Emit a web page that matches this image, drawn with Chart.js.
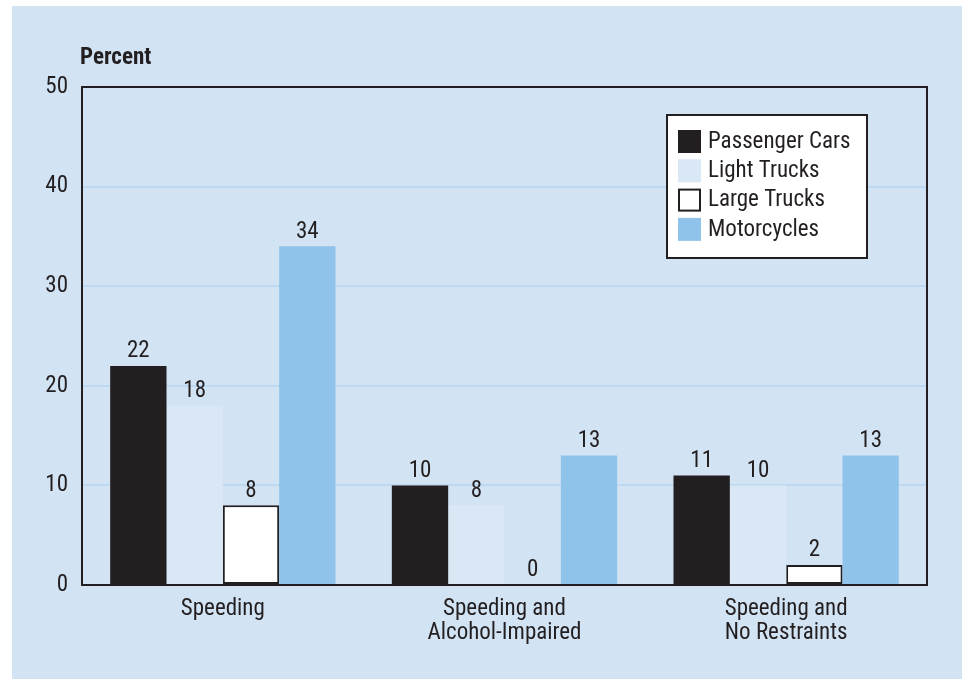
<!DOCTYPE html>
<html>
<head>
<meta charset="utf-8">
<script src="https://cdn.jsdelivr.net/npm/chart.js@4.4.0/dist/chart.umd.min.js"></script>
<style>
  html, body { margin: 0; padding: 0; background: #ffffff; }
  #panel { position: absolute; left: 12px; top: 6px; width: 950px; height: 673px; background: #d2e3f4; }
  #chart { display: block; }
</style>
</head>
<body>
<div id="panel"><canvas id="chart" width="950" height="673"></canvas></div>
<script>
// Categories and series values
const categories = [['Speeding'], ['Speeding and', 'Alcohol-Impaired'], ['Speeding and', 'No Restraints']];
const passengerCars = [22, 10, 11];
const lightTrucks = [18, 8, 10];
const largeTrucks = [8, 0, 2];
const motorcycles = [34, 13, 13];
const yTicks = [0, 10, 20, 30, 40, 50];

const FONT = "'Liberation Sans Narrow', 'Arial Narrow', 'Roboto Condensed', 'Liberation Sans', sans-serif";
const INK = '#231f20';
const SIZE = 23;

// Value labels above each bar
const valueLabels = {
    id: 'valueLabels',
    afterDatasetsDraw(chart) {
        const ctx = chart.ctx;
        ctx.save();
        ctx.font = SIZE + 'px ' + FONT;
        ctx.fillStyle = INK;
        ctx.textAlign = 'center';
        ctx.textBaseline = 'bottom';
        chart.data.datasets.forEach((ds, i) => {
            chart.getDatasetMeta(i).data.forEach((bar, j) => {
                ctx.fillText(String(ds.data[j]), bar.x, bar.y - 3);
            });
        });
        ctx.restore();
    }
};

// Black frame round the plot area, "Percent" heading and boxed legend
const frameAndLegend = {
    id: 'frameAndLegend',
    afterDatasetsDraw(chart) {
        const ctx = chart.ctx;
        const a = chart.chartArea;
        ctx.save();
        ctx.strokeStyle = INK;
        ctx.lineWidth = 2;
        ctx.strokeRect(a.left, a.top, a.right - a.left, a.bottom - a.top);

        ctx.font = 'bold ' + SIZE + 'px ' + FONT;
        ctx.fillStyle = INK;
        ctx.textAlign = 'left';
        ctx.textBaseline = 'middle';
        ctx.fillText('Percent', a.left - 2, a.top - 29);

        // legend box
        const bx = a.right - 260, by = a.top + 28, bw = 200, bh = 143;
        ctx.fillStyle = '#ffffff';
        ctx.fillRect(bx, by, bw, bh);
        ctx.strokeRect(bx, by, bw, bh);
        ctx.font = SIZE + 'px ' + FONT;
        chart.data.datasets.forEach((ds, i) => {
            const sy = by + 15 + i * 29.3;
            const sx = bx + 11;
            ctx.fillStyle = ds.backgroundColor;
            ctx.fillRect(sx, sy, 23, 23);
            if (ds.borderWidth > 0) {
                ctx.lineWidth = 2;
                ctx.strokeStyle = ds.borderColor;
                ctx.strokeRect(sx + 1, sy + 1, 21, 21);
            }
            ctx.fillStyle = INK;
            ctx.fillText(ds.label, bx + 41, sy + 12);
        });
        ctx.restore();
    }
};

new Chart(document.getElementById('chart'), {
    type: 'bar',
    data: {
        labels: categories,
        datasets: [
            { label: 'Passenger Cars', data: passengerCars, backgroundColor: INK, borderWidth: 0 },
            { label: 'Light Trucks', data: lightTrucks, backgroundColor: '#dae7f5', borderWidth: 0 },
            { label: 'Large Trucks', data: largeTrucks, backgroundColor: '#ffffff', borderColor: INK, borderWidth: 2, borderSkipped: false },
            { label: 'Motorcycles', data: motorcycles, backgroundColor: '#8fc3ea', borderWidth: 0 }
        ]
    },
    options: {
        responsive: false,
        animation: false,
        datasets: { bar: { barPercentage: 1.0, categoryPercentage: 0.8 } },
        layout: { padding: { left: 0, right: 35, top: 81, bottom: 0 } },
        plugins: {
            legend: { display: false },
            tooltip: { enabled: false }
        },
        scales: {
            x: {
                grid: { display: false },
                border: { display: false },
                ticks: {
                    font: { family: FONT, size: SIZE, lineHeight: 1.05 },
                    color: INK,
                    padding: 4,
                    maxRotation: 0
                },
                afterFit(scale) { scale.height = 94; }
            },
            y: {
                min: 0,
                max: 50,
                afterBuildTicks(scale) { scale.ticks = yTicks.map(v => ({ value: v })); },
                grid: {
                    color: ctx => (ctx.tick.value === 0 || ctx.tick.value === 50) ? 'rgba(0,0,0,0)' : '#bcd9f1',
                    lineWidth: 2,
                    drawTicks: false
                },
                border: { display: false },
                ticks: {
                    font: { family: FONT, size: SIZE },
                    color: INK,
                    padding: 14
                },
                afterFit(scale) { scale.width = 70; }
            }
        }
    },
    plugins: [valueLabels, frameAndLegend]
});
</script>
</body>
</html>
